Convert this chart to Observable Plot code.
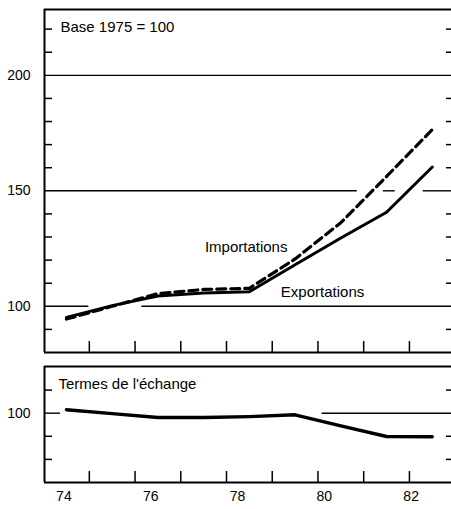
<!DOCTYPE html>
<html>
<head>
<meta charset="utf-8">
<script src="https://cdn.jsdelivr.net/npm/d3@7"></script>
<script src="https://cdn.jsdelivr.net/npm/@observablehq/plot@0.6"></script>
<style>
  html, body { margin: 0; padding: 0; background: white; }
  svg { display: block; }
</style>
</head>
<body>
<div id="chart"></div>
<script>
// ---- data ----
const years = [74, 75, 76, 77, 78, 79, 80, 81, 82];
const exportations = [95.2, 100.3, 104.5, 105.8, 106.3, 118, 129.6, 140.7, 160.3];
const importations = [94.5, 100, 105.5, 107.3, 107.8, 120.5, 136.2, 156.2, 176.5];
const termesEchange = [101.5, 99.8, 98.1, 98.1, 98.5, 99.3, 94.5, 89.9, 89.8];
const xTickLabels = [74, 76, 78, 80, 82];
const topYLabels = [100, 150, 200];
const bottomYLabels = [100];
const labelImport = "Importations";
const labelExport = "Exportations";
const titleTop = "Base 1975 = 100";
const titleBottom = "Termes de l'échange";

// gridline pieces (value, from year, to year) — interrupted as in the original
const xDomain = [73.52, 82.42];
const topGrid = [
  {v: 200, from: xDomain[0], to: xDomain[1]},
  {v: 150, from: xDomain[0], to: 80.36},
  {v: 150, from: 80.93, to: 81.19},
  {v: 150, from: 81.8, to: xDomain[1]},
  {v: 100, from: xDomain[0], to: 74.49},
  {v: 100, from: 75.65, to: xDomain[1]}
];
const bottomGrid = [
  {v: 100, from: xDomain[0], to: 73.87},
  {v: 100, from: 79.59, to: xDomain[1]}
];

const topDomain = [80, 228.5];
const bottomDomain = [70, 120.2];

const exportTable = years.map((yr, i) => ({year: yr, value: exportations[i]}));
const importTable = years.map((yr, i) => ({year: yr, value: importations[i]}));
const termesTable = years.map((yr, i) => ({year: yr, value: termesEchange[i]}));

const font = "'Liberation Sans', Arial, Helvetica, sans-serif";
const style = {fontFamily: font, fontSize: "14px", color: "black", background: "white", overflow: "visible"};
const halfYears = d3.range(74.5, 82, 1);

function framePieces(domain) {
  return [
    Plot.ruleX([xDomain[0]], {strokeWidth: 2}),
    Plot.ruleY([domain[0], domain[1]], {x1: xDomain[0], x2: xDomain[1], strokeWidth: 2})
  ];
}

const topChart = Plot.plot({
  width: 451, height: 355,
  marginLeft: 44, marginRight: 0, marginTop: 9, marginBottom: 3,
  x: {domain: xDomain, axis: null, label: null},
  y: {domain: topDomain, axis: null, label: null},
  style,
  marks: [
    Plot.ruleY(topGrid, {y: "v", x1: "from", x2: "to", strokeWidth: 1.4}),
    ...framePieces(topDomain),
    Plot.axisY(d3.range(90, 221, 10).filter(v => !topYLabels.includes(v)), {anchor: "left", tickSize: -8, text: null, label: null, strokeWidth: 1.5}),
    Plot.axisY(d3.range(90, 221, 10).filter(v => !topYLabels.includes(v)), {anchor: "right", tickSize: -6, text: null, label: null, strokeWidth: 1.5}),
    Plot.axisX(halfYears, {anchor: "bottom", tickSize: -11, text: null, label: null, strokeWidth: 1.5}),
    Plot.axisY(topYLabels, {anchor: "left", tickSize: 0, tickPadding: 14, label: null, fontSize: 14}),
    Plot.line(importTable, {x: "year", y: "value", strokeWidth: 3.2, strokeDasharray: "9,5"}),
    Plot.line(exportTable, {x: "year", y: "value", strokeWidth: 3}),
    Plot.text([labelImport], {x: 77.93, y: 125.8, text: d => d, fontSize: 15, textAnchor: "middle"}),
    Plot.text([labelExport], {x: 79.6, y: 106.1, text: d => d, fontSize: 15, textAnchor: "middle"}),
    Plot.text([titleTop], {frameAnchor: "top-left", textAnchor: "start", lineAnchor: "middle", dx: 16, dy: 18, text: d => d, fontSize: 15})
  ]
});

const bottomChart = Plot.plot({
  width: 451, height: 129,
  marginLeft: 44, marginRight: 0, marginTop: 11, marginBottom: 2,
  x: {domain: xDomain, axis: null, label: null},
  y: {domain: bottomDomain, axis: null, label: null},
  style,
  marks: [
    Plot.ruleY(bottomGrid, {y: "v", x1: "from", x2: "to", strokeWidth: 1.4}),
    ...framePieces(bottomDomain),
    Plot.axisY([80, 90, 110], {anchor: "left", tickSize: -8, text: null, label: null, strokeWidth: 1.5}),
    Plot.axisY([80, 90, 110], {anchor: "right", tickSize: -6, text: null, label: null, strokeWidth: 1.5}),
    Plot.axisX(halfYears, {anchor: "bottom", tickSize: -11, text: null, label: null, strokeWidth: 1.5}),
    Plot.axisY(bottomYLabels, {anchor: "left", tickSize: 0, tickPadding: 14, label: null, fontSize: 14}),
    Plot.line(termesTable, {x: "year", y: "value", strokeWidth: 3.4}),
    Plot.text([titleBottom], {frameAnchor: "top-left", textAnchor: "start", lineAnchor: "middle", dx: 14, dy: 18, text: d => d, fontSize: 15})
  ]
});

// year labels (typeset slightly unevenly in the original)
const axisChart = Plot.plot({
  width: 451, height: 25,
  margin: 0,
  x: {domain: [72.54, 82.93], axis: null},
  y: {axis: null},
  style,
  marks: [
    Plot.text(xTickLabels, {x: d => d, text: d => String(d), frameAnchor: "middle", fontSize: 14})
  ]
});

const el = document.getElementById("chart");
el.append(topChart, bottomChart, axisChart);
</script>
</body>
</html>
